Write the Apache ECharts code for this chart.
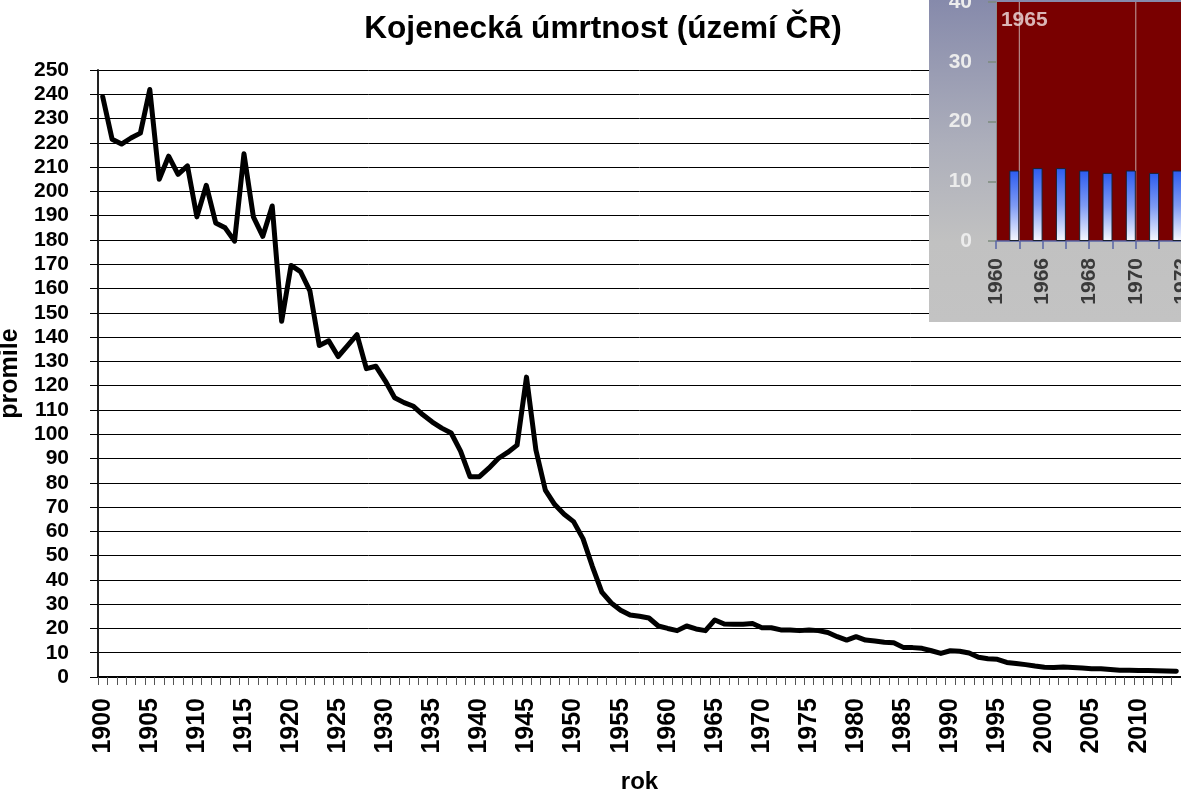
<!DOCTYPE html>
<html>
<head>
<meta charset="utf-8">
<script src="https://cdn.jsdelivr.net/npm/echarts@6/dist/echarts.min.js"></script>
<style>
  html, body { margin: 0; padding: 0; background: #ffffff; }
  #chart { width: 1181px; height: 800px; }
</style>
</head>
<body>
<div id="chart"></div>
<script>
// Infant mortality per 1000 live births, Czech territory, 1900–2014
const years = [];
for (let y = 1900; y <= 2014; y++) years.push(String(y));

const mortality = [
  239, 221.5, 219.5, 222, 224, 242, 205, 214.5, 207, 210.5,        // 1900–1909
  189.5, 202.5, 187, 185, 179.5, 215.5, 189.5, 181.5, 194, 146.5,  // 1910–1919
  169.5, 167, 159, 136.5, 138.5, 132, 136.5, 141, 127, 128,        // 1920–1929
  122, 115, 113, 111.5, 108, 105, 102.5, 100.5, 93, 82.5,          // 1930–1939
  82.5, 86, 90, 92.5, 95.5, 123.5, 93.5, 77, 71, 67,               // 1940–1949
  64, 57, 45.5, 35, 30.5, 27.5, 25.5, 25, 24.3, 21,                // 1950–1959
  20, 19.1, 21, 19.8, 19.1, 23.5, 21.8, 21.7, 21.7, 22,            // 1960–1969
  20.3, 20.3, 19.4, 19.4, 19.1, 19.4, 19.1, 18.3, 16.6, 15.2,      // 1970–1979
  16.6, 15.2, 14.8, 14.3, 14.1, 12.2, 12.1, 11.8, 10.8, 9.7,       // 1980–1989
  10.8, 10.6, 9.9, 8.1, 7.5, 7.3, 6.0, 5.6, 5.1, 4.5,              // 1990–1999
  4.0, 3.9, 4.1, 3.9, 3.7, 3.4, 3.4, 3.1, 2.8, 2.8,                // 2000–2009
  2.7, 2.7, 2.6, 2.5, 2.4                                          // 2010–2014
];

// Small bar-chart panel in the upper right corner
const insetYears = ['1960', '1965', '1966', '1967', '1968', '1969', '1970', '1971', '1972'];
const insetValues = [null, 11.8, 12.2, 12.2, 11.8, 11.4, 11.8, 11.4, 11.8];
const insetMarkedYears = ['1965', '1970'];
const insetMax = 40;
const insetCaption = ['1965', 37];   // year label written near the top of its marker line

const FONT = "'Liberation Sans', Arial, sans-serif";

// vertical marker lines in the inset, one small line series per marked year
const markerSeries = insetMarkedYears.map(y => ({
  type: 'line',
  xAxisIndex: 1,
  yAxisIndex: 1,
  data: [[y, 0], [y, insetMax]],
  symbol: 'none',
  silent: true,
  z: 12,
  lineStyle: { color: '#c2a4a4', width: 1 }
}));

const chart = echarts.init(document.getElementById('chart'), null, { renderer: 'canvas' });

chart.setOption({
  animation: false,
  backgroundColor: '#ffffff',
  title: {
    text: 'Kojenecká úmrtnost (území ČR)',
    left: 598,
    top: 8,
    textAlign: 'center',
    textStyle: { fontFamily: FONT, fontSize: 31.6, fontWeight: 'bold', color: '#000' }
  },
  graphic: [{
    type: 'rect',
    z: 10,
    shape: { x: 929, y: 0, width: 260, height: 322 },
    style: {
      fill: {
        type: 'linear', x: 0, y: 0, x2: 0, y2: 1,
        colorStops: [
          { offset: 0, color: '#868aab' },
          { offset: 0.45, color: '#adafbb' },
          { offset: 0.75, color: '#c1c1c1' },
          { offset: 1, color: '#c3c3c3' }
        ]
      }
    }
  }],
  grid: [
    { left: 98, right: 0, top: 70, bottom: 123, containLabel: false, outerBoundsMode: 'none' },
    { left: 996, right: -1.4, top: 2, bottom: 559, containLabel: false, outerBoundsMode: 'none',
      show: true, backgroundColor: '#790000', borderWidth: 0, z: 11 }
  ],
  xAxis: [
    {
      gridIndex: 0,
      type: 'category',
      data: years,
      boundaryGap: true,
      axisLine: { show: true, lineStyle: { color: '#000', width: 2 } },
      axisTick: { show: true, interval: 0, length: 8, lineStyle: { color: '#555', width: 1 } },
      axisLabel: { interval: 4, rotate: 90, margin: 21, fontFamily: FONT, fontSize: 25, fontWeight: 'bold', color: '#000' },
      splitLine: { show: false },
      name: 'rok',
      nameLocation: 'middle',
      nameGap: 93,
      nameTextStyle: { fontFamily: FONT, fontSize: 24, fontWeight: 'bold', color: '#000' }
    },
    {
      gridIndex: 1,
      type: 'category',
      data: insetYears,
      boundaryGap: false,
      z: 12,
      axisLine: { show: true, lineStyle: { color: '#5866a6', width: 1.5 } },
      axisTick: { show: true, interval: 0, length: 8, lineStyle: { color: '#5866a6', width: 1.5 } },
      axisLabel: { interval: 1, rotate: 90, margin: 17, fontFamily: FONT, fontSize: 21, fontWeight: 'bold', color: '#3a3a3a' },
      splitLine: { show: false }
    }
  ],
  yAxis: [
    {
      gridIndex: 0,
      type: 'value',
      min: 0,
      max: 250,
      interval: 10,
      axisLine: { show: true, lineStyle: { color: '#222', width: 2 } },
      axisTick: { show: true, length: 8, lineStyle: { color: '#000', width: 1 } },
      axisLabel: { margin: 29, fontFamily: FONT, fontSize: 21, fontWeight: 'bold', color: '#000' },
      splitLine: { show: true, lineStyle: { color: '#000', width: 1 } },
      name: 'promile',
      nameLocation: 'middle',
      nameGap: 70,
      nameRotate: 90,
      nameTextStyle: { fontFamily: FONT, fontSize: 25, fontWeight: 'bold', color: '#000' }
    },
    {
      gridIndex: 1,
      type: 'value',
      min: 0,
      max: insetMax,
      interval: 10,
      z: 12,
      axisLine: { show: true, lineStyle: { color: '#8c8c8c', width: 1 } },
      axisTick: { show: true, length: 8, lineStyle: { color: '#7c8a7c', width: 1.5 } },
      axisLabel: { margin: 24, fontFamily: FONT, fontSize: 21, fontWeight: 'bold', color: '#ececec' },
      splitLine: { show: false }
    }
  ],
  series: [
    {
      type: 'line',
      xAxisIndex: 0,
      yAxisIndex: 0,
      data: mortality,
      symbol: 'none',
      z: 2,
      lineStyle: { color: '#000', width: 5, join: 'round', cap: 'round' }
    },
    ...markerSeries,
    {
      type: 'bar',
      xAxisIndex: 1,
      yAxisIndex: 1,
      data: insetValues,
      barWidth: 10,
      barGap: '0%',
      z: 13,
      itemStyle: {
        color: {
          type: 'linear', x: 0, y: 0, x2: 0, y2: 1,
          colorStops: [
            { offset: 0, color: '#2c5cf0' },
            { offset: 0.5, color: '#7f9bf4' },
            { offset: 1, color: '#f7f9ff' }
          ]
        },
        borderColor: '#1a2230',
        borderWidth: 1
      }
    },
    {
      // empty companion series: shifts the real bars to the left of each tick
      type: 'bar',
      xAxisIndex: 1,
      yAxisIndex: 1,
      data: [],
      barWidth: 10,
      barGap: '0%',
      z: 13
    },
    {
      type: 'scatter',
      xAxisIndex: 1,
      yAxisIndex: 1,
      data: [insetCaption],
      symbolSize: 0,
      silent: true,
      z: 14,
      label: {
        show: true,
        position: 'inside',
        offset: [5, 0],
        formatter: (p) => p.value[0],
        fontFamily: FONT, fontSize: 21, fontWeight: 'bold', color: '#f3e3e3'
      }
    }
  ]
});
</script>
</body>
</html>
